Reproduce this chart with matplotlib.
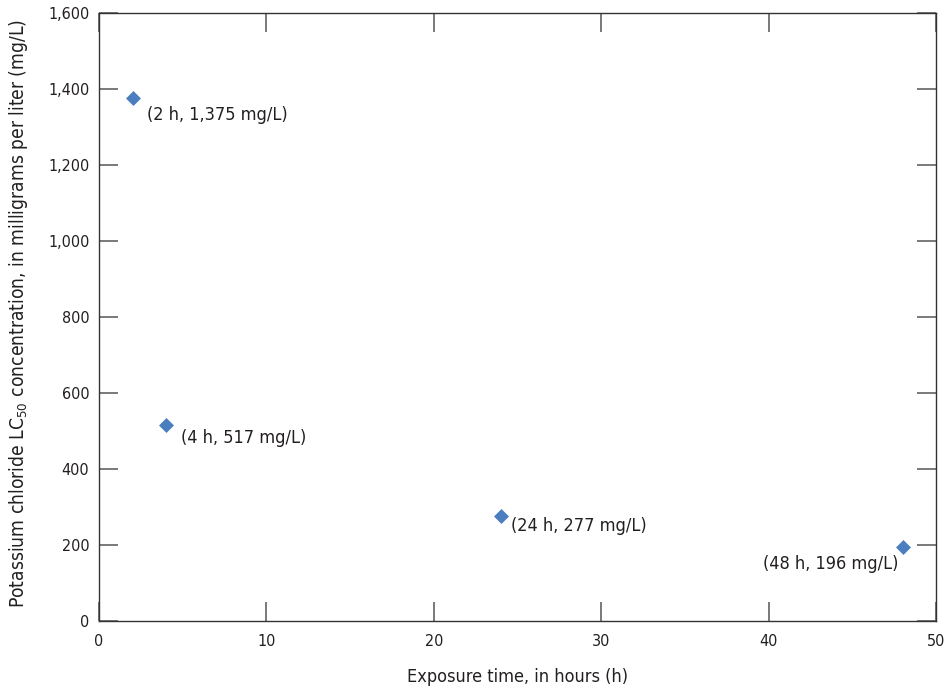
import matplotlib
matplotlib.use("Agg")
import matplotlib.pyplot as plt
from matplotlib.ticker import FuncFormatter

plt.rcParams['font.family'] = ['DejaVu Sans']
plt.rcParams['font.stretch'] = 'condensed'
plt.rcParams['mathtext.fontset'] = 'custom'
plt.rcParams['mathtext.rm'] = 'DejaVu Sans:stretch=condensed'

# data
hours = [2, 4, 24, 48]
lc50 = [1375, 517, 277, 196]
labels = ["(2 h, 1,375 mg/L)", "(4 h, 517 mg/L)", "(24 h, 277 mg/L)", "(48 h, 196 mg/L)"]
# label offsets in points (dx, dy) and alignment
offsets = [(10.5, -12), (10.5, -10), (7.5, -7.5), (-2.8, -12.5)]
aligns = ["left", "left", "left", "right"]

fig = plt.figure(figsize=(9.45, 6.91), dpi=100)
ax = fig.add_axes([0.1048, 0.1013, 0.8857, 0.8799])

ax.scatter(hours, lc50, marker="D", s=58, color="#4a7ebf", zorder=3, linewidths=0)
for x, y, lab, off, ha in zip(hours, lc50, labels, offsets, aligns):
    ax.annotate(lab, (x, y), xytext=off, textcoords="offset points",
                ha=ha, va="center", fontsize=13, color="#231f20")

ax.set_xlim(0, 50)
ax.set_ylim(0, 1600)
ax.set_xticks(range(0, 51, 10))
ax.set_yticks(range(0, 1601, 200))
ax.yaxis.set_major_formatter(FuncFormatter(lambda v, p: f"{int(v):,}"))
ax.tick_params(direction="in", length=13.5, width=1.1, top=True, right=True,
               labelsize=11.5, color="#555555", labelcolor="#231f20")
ax.tick_params(axis="x", pad=9)
ax.tick_params(axis="y", pad=7)
for s in ax.spines.values():
    s.set_linewidth(1.0)
    s.set_color("#333333")

ax.set_xlabel("Exposure time, in hours (h)", fontsize=13, color="#231f20", labelpad=14)
ax.set_ylabel("Potassium chloride LC$_{50}$ concentration, in milligrams per liter (mg/L)",
              fontsize=13.8, color="#231f20")
ax.yaxis.set_label_coords(-0.083, 0.505)

fig.savefig("out.png", dpi=100)
